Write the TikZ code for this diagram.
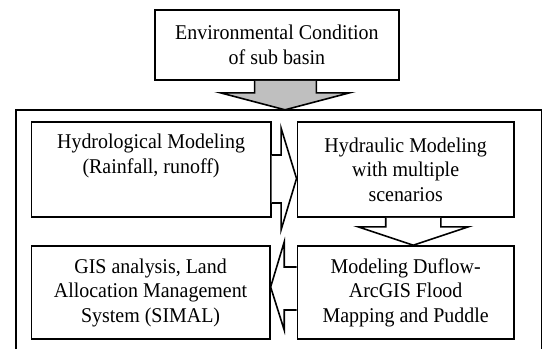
\documentclass[tikz,border=0pt]{standalone}
\usepackage{fontspec}
\setmainfont[FakeStretch=0.95]{Liberation Serif}
\usetikzlibrary{calc}

\begin{document}
\begin{tikzpicture}[x=0.95pt, y=-1pt,
  stage/.style={draw, line width=1.6pt, align=center, inner sep=0pt,
    font=\fontsize{21}{24.5}\selectfont},
  blockarrow/.style={draw, line width=1.6pt, fill=white, line join=miter}]
  \useasboundingbox (0,0) rectangle (580,349);
  \node[stage, minimum width=244, minimum height=70] (cond) at (291.5,45)
    {Environmental Condition\\of sub basin};
  \draw[line width=1.6pt] (17,349) |- (570,110) -- (570,349);
  \node[stage, minimum width=239.4, minimum height=95] (hydro) at (159,169.5)
    {Hydrological Modeling\\(Rainfall, runoff)\\\strut};
  \node[stage, minimum width=216.6, minimum height=95] (hydra) at (427,169.5)
    {Hydraulic Modeling\\with multiple\\scenarios};
  \node[stage, minimum width=238.5, minimum height=93] (gis) at (158.5,292.5)
    {GIS analysis, Land\\Allocation Management\\System (SIMAL)};
  \node[stage, minimum width=216.6, minimum height=93] (duflow) at (427,292.5)
    {Modeling Duflow-\\ArcGIS Flood\\Mapping and Puddle};
  % arrows between the stages
  \draw[blockarrow, fill=gray!50] ($(cond.south)+(-23.5,0)$) -- ++(0,12)
    -- ++(-36,0) -- ($(cond.south)+(8.5,29)$) -- ($(cond.south)+(76.5,12)$)
    -- ++(-35,0) -- ($(cond.south)+(41.5,0)$);
  \draw[blockarrow] ($(hydro.east)+(0,-14.5)$) -- ++(10,0) -- ++(0,-27)
    -- ($(hydra.west)+(0,9)$) -- ($(hydro.east)+(10,60.5)$)
    -- ++(0,-27) -- ($(hydro.east)+(0,33.5)$);
  \draw[blockarrow] ($(hydra.south)+(-21,0)$) -- ++(0,9) -- ++(-29,0)
    -- ($(duflow.north)+(8,0)$) -- ($(hydra.south)+(66,9)$)
    -- ++(-29,0) -- ($(hydra.south)+(37,0)$);
  \draw[blockarrow] ($(duflow.west)+(0,-25.5)$) -- ++(-13,0) -- ++(0,-25)
    -- ($(gis.east)+(0,-5.5)$) -- ($(duflow.west)+(-13,37.5)$)
    -- ++(0,-20) -- ($(duflow.west)+(0,17.5)$);
\end{tikzpicture}
\end{document}
